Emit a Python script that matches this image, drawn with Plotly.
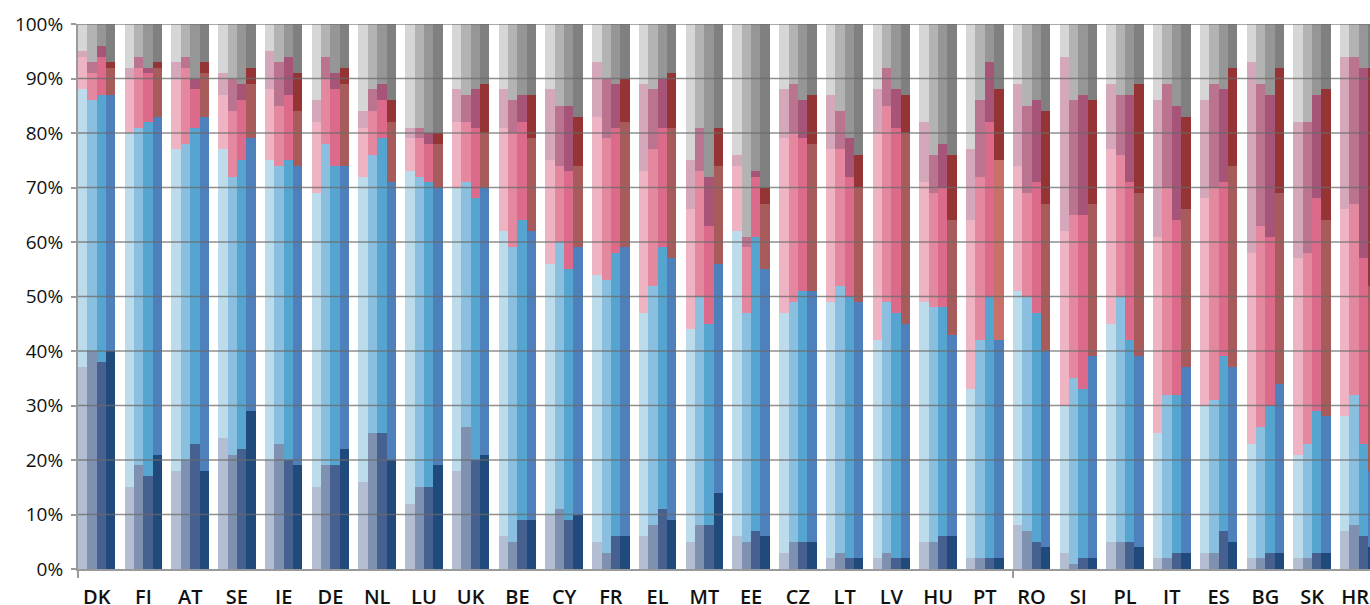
import plotly.graph_objects as go

countries = ["DK", "FI", "AT", "SE", "IE", "DE", "NL", "LU", "UK", "BE", "CY", "FR", "EL", "MT",
             "EE", "CZ", "LT", "LV", "HU", "PT", "RO", "SI", "PL", "IT", "ES", "BG", "SK", "HR"]

# segment shares (%) per bar, bottom to top; four bars (periods) per country
y1_s1 = [37, 15, 18, 24, 20, 15, 16, 12, 18, 6, 10, 5, 6, 5, 6, 3, 2, 2, 5, 2, 8, 3, 5, 2, 3, 2, 2, 7]
y1_s2 = [51, 65, 59, 53, 55, 54, 56, 61, 52, 56, 46, 49, 41, 39, 56, 44, 47, 40, 44, 31, 43, 27, 40, 23, 27, 21, 19, 21]
y1_s3 = [6, 10, 13, 10, 13, 13, 9, 6, 12, 19, 19, 29, 26, 22, 12, 32, 28, 38, 22, 31, 23, 32, 32, 36, 38, 35, 36, 38]
y1_s4 = [1, 2, 3, 4, 7, 4, 3, 2, 6, 7, 13, 10, 16, 9, 2, 9, 10, 8, 11, 13, 15, 32, 12, 25, 18, 35, 25, 28]
y1_s5 = [5, 8, 7, 9, 5, 14, 16, 19, 12, 12, 12, 7, 11, 25, 24, 12, 13, 12, 18, 23, 11, 6, 11, 14, 14, 7, 18, 6]

y2_s1 = [40, 19, 20, 21, 23, 19, 25, 15, 26, 5, 11, 3, 8, 8, 5, 5, 3, 3, 5, 2, 7, 1, 5, 2, 3, 2, 2, 8]
y2_s2 = [46, 62, 58, 51, 51, 59, 51, 57, 45, 54, 49, 50, 44, 42, 42, 44, 49, 46, 43, 40, 43, 34, 45, 30, 28, 24, 21, 24]
y2_s3 = [5, 11, 14, 12, 11, 12, 8, 7, 11, 21, 14, 26, 25, 23, 12, 31, 25, 36, 21, 30, 19, 30, 26, 38, 39, 37, 35, 35]
y2_s4 = [2, 2, 2, 6, 8, 4, 4, 2, 5, 6, 11, 11, 11, 8, 2, 9, 7, 7, 7, 14, 16, 21, 11, 19, 19, 26, 24, 27]
y2_s5 = [7, 6, 6, 10, 7, 6, 12, 19, 13, 14, 15, 10, 12, 19, 39, 11, 16, 8, 24, 14, 15, 14, 13, 11, 11, 11, 18, 6]

y3_s1 = [38, 17, 23, 22, 20, 19, 25, 15, 20, 9, 9, 6, 11, 8, 7, 5, 2, 2, 6, 2, 5, 2, 5, 3, 7, 3, 3, 6]
y3_s2 = [49, 65, 58, 53, 55, 55, 54, 56, 48, 55, 46, 52, 48, 37, 54, 46, 48, 45, 42, 48, 42, 31, 37, 29, 32, 27, 26, 17]
y3_s3 = [7, 9, 7, 11, 12, 14, 7, 7, 13, 18, 18, 23, 22, 18, 11, 28, 22, 34, 22, 32, 24, 32, 29, 32, 32, 31, 39, 34]
y3_s4 = [2, 1, 2, 3, 7, 3, 3, 2, 7, 5, 12, 8, 9, 9, 1, 7, 7, 7, 8, 11, 15, 22, 16, 21, 17, 26, 19, 35]
y3_s5 = [4, 8, 10, 11, 6, 9, 11, 20, 12, 13, 15, 11, 10, 28, 27, 14, 21, 12, 22, 7, 14, 13, 13, 15, 12, 13, 13, 8]

y4_s1 = [40, 21, 18, 29, 19, 22, 20, 19, 21, 9, 10, 6, 9, 14, 6, 5, 2, 2, 6, 2, 4, 2, 4, 3, 5, 3, 3, 4]
y4_s2 = [47, 62, 65, 50, 55, 52, 51, 51, 49, 53, 49, 53, 48, 42, 49, 46, 47, 43, 37, 40, 36, 37, 35, 34, 32, 31, 25, 14]
y4_s3 = [5, 9, 8, 10, 10, 15, 11, 8, 10, 17, 15, 23, 24, 18, 12, 27, 21, 35, 21, 33, 27, 28, 30, 29, 37, 35, 36, 34]
y4_s4 = [1, 1, 2, 3, 7, 3, 4, 2, 9, 8, 9, 8, 10, 7, 3, 9, 6, 7, 12, 13, 17, 19, 20, 17, 18, 23, 24, 40]
y4_s5 = [7, 7, 7, 8, 9, 8, 14, 20, 11, 13, 17, 10, 9, 19, 30, 13, 24, 13, 24, 12, 16, 14, 11, 17, 8, 8, 12, 8]

y_ticks = [0, 10, 20, 30, 40, 50, 60, 70, 80, 90, 100]
y_tick_text = ["0%", "10%", "20%", "30%", "40%", "50%", "60%", "70%", "80%", "90%", "100%"]

periods = [
    ([y1_s1, y1_s2, y1_s3, y1_s4, y1_s5], ["#B4BED2", "#BCDCEC", "#EEB4C3", "#D5A7BA", "#D6D6D6"]),
    ([y2_s1, y2_s2, y2_s3, y2_s4, y2_s5], ["#7F91B0", "#8ABFDF", "#E3889F", "#BB7490", "#B3B3B3"]),
    ([y3_s1, y3_s2, y3_s3, y3_s4, y3_s5], ["#46618F", "#56A5D0", "#DC6A8A", "#A65478", "#969696"]),
    ([y4_s1, y4_s2, y4_s3, y4_s4, y4_s5], ["#204A7C", "#4E80BC", "#A85B5B", "#943434", "#808080"]),
]

n = len(countries)
bw = 0.2
fig = go.Figure()
for j, (segs, cols) in enumerate(periods):
    xs = [i + (j - 1.5) * bw for i in range(n)]
    for k, (vals, col) in enumerate(zip(segs, cols)):
        colors = [col] * n
        if j == 3 and k == 2:
            colors[countries.index("PT")] = "#C97068"
        fig.add_trace(go.Bar(
            x=xs, y=vals, width=bw, marker=dict(color=colors, line=dict(width=0)),
            showlegend=False, hoverinfo="skip"))

shapes = []
for v in y_ticks[1:]:
    shapes.append(dict(type="line", xref="paper", x0=0, x1=1, yref="y", y0=v, y1=v,
                       line=dict(color="rgba(105,105,105,0.75)", width=1.6), layer="above"))

# label positions at group centres; the last one nudged left so it stays inside the frame
label_pos = [float(i) for i in range(n)]
label_pos[-1] -= 0.08

FONT = "Open Sans, Noto Sans, sans-serif"
fig.update_layout(
    barmode="stack",
    width=1370, height=605,
    margin=dict(l=78, r=0, t=24, b=36, autoexpand=False),
    paper_bgcolor="white", plot_bgcolor="white",
    font=dict(family=FONT, color="#111111"),
    shapes=shapes,
    xaxis=dict(
        range=[-0.4, n - 1 + 0.24],
        automargin=False,
        tickmode="array", tickvals=label_pos, ticktext=countries,
        ticks="outside", ticklen=9, tickcolor="rgba(0,0,0,0)",
        ticklabeloverflow="allow",
        tickfont=dict(size=20, family=FONT, color="#111111", weight=600),
        showgrid=False, zeroline=False,
        showline=True, linecolor="#9A9A9A", linewidth=2,
        minor=dict(tickmode="array", tickvals=[-0.4, 19.6], ticks="outside", ticklen=7,
                   tickcolor="#9A9A9A", tickwidth=2, showgrid=False),
    ),
    yaxis=dict(
        range=[0, 100],
        automargin=False,
        tickmode="array", tickvals=y_ticks, ticktext=y_tick_text,
        ticks="outside", ticklen=5, tickcolor="#9A9A9A", tickwidth=2,
        tickfont=dict(size=19, family=FONT, color="#111111"),
        ticklabelstandoff=4,
        showgrid=False, zeroline=False,
        showline=True, linecolor="#9A9A9A", linewidth=2,
    ),
)

fig.write_html(
    "out.html",
    config={"displayModeBar": False},
    post_script="document.body.style.margin='0';document.body.style.overflow='hidden';",
)
